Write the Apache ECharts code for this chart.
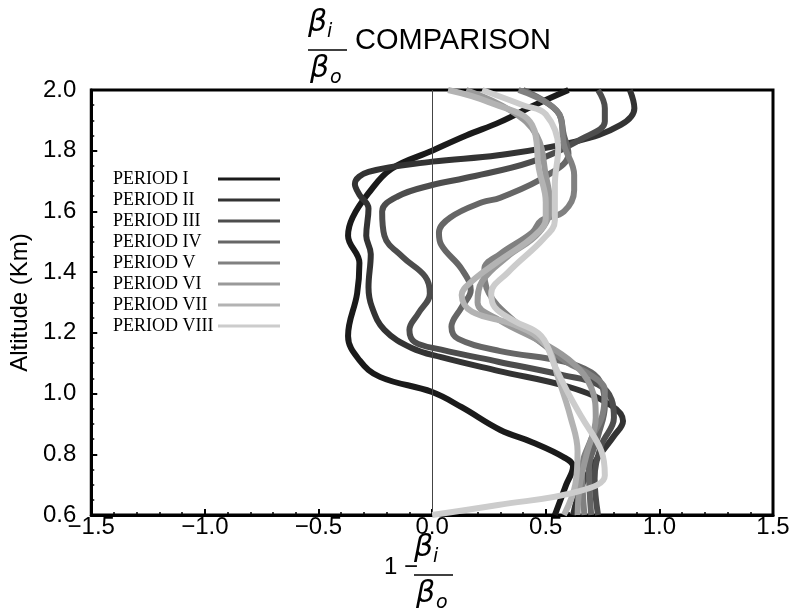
<!DOCTYPE html>
<html>
<head>
<meta charset="utf-8">
<script src="https://cdn.jsdelivr.net/npm/echarts@6/dist/echarts.min.js"></script>
<style>
  html, body { margin: 0; padding: 0; background: #fff; }
  #chart { width: 795px; height: 611px; }
</style>
</head>
<body>
<div id="chart"></div>
<script>
// each point is [1 - bi/bo, altitude in km], read top to bottom along the curve
const periodI = [[0.60,2.0],[0.45,1.95],[0.30,1.895],[0.15,1.85],[0.0,1.80],[-0.18,1.74],[-0.28,1.66],[-0.35,1.58],[-0.37,1.52],[-0.32,1.43],[-0.33,1.33],[-0.37,1.19],[-0.32,1.11],[-0.23,1.055],[0.0,1.005],[0.13,0.955],[0.30,0.88],[0.44,0.84],[0.58,0.79],[0.62,0.76],[0.59,0.70],[0.54,0.6]];
const periodII = [[0.87,2.0],[0.89,1.94],[0.83,1.885],[0.63,1.83],[0.29,1.785],[0.0,1.764],[-0.28,1.73],[-0.34,1.69],[-0.32,1.655],[-0.28,1.61],[-0.29,1.52],[-0.27,1.46],[-0.28,1.35],[-0.265,1.285],[-0.21,1.21],[-0.09,1.15],[0.04,1.12],[0.29,1.075],[0.61,1.02],[0.79,0.96],[0.84,0.91],[0.80,0.86],[0.73,0.79],[0.66,0.70],[0.62,0.6]];
const periodIII = [[0.73,2.0],[0.76,1.94],[0.76,1.896],[0.66,1.84],[0.44,1.764],[0.146,1.71],[0.0,1.687],[-0.15,1.65],[-0.22,1.60],[-0.21,1.52],[-0.13,1.45],[-0.03,1.385],[-0.01,1.33],[-0.06,1.265],[-0.10,1.21],[-0.077,1.17],[0.04,1.145],[0.29,1.105],[0.58,1.06],[0.73,1.03],[0.79,0.98],[0.80,0.92],[0.745,0.83],[0.715,0.72],[0.73,0.6]];
const periodIV = [[0.40,2.0],[0.55,1.93],[0.58,1.85],[0.60,1.79],[0.51,1.72],[0.30,1.645],[0.22,1.63],[0.08,1.58],[0.03,1.53],[0.04,1.49],[0.13,1.41],[0.17,1.34],[0.13,1.285],[0.085,1.22],[0.115,1.18],[0.30,1.14],[0.58,1.105],[0.70,1.07],[0.745,1.03],[0.76,0.96],[0.73,0.86],[0.69,0.75],[0.70,0.6]];
const periodV = [[0.38,2.0],[0.56,1.92],[0.58,1.82],[0.625,1.72],[0.625,1.67],[0.58,1.60],[0.48,1.57],[0.44,1.53],[0.30,1.46],[0.23,1.41],[0.25,1.33],[0.36,1.24],[0.51,1.15],[0.60,1.10],[0.70,1.06],[0.76,1.01],[0.75,0.93],[0.70,0.85],[0.66,0.75],[0.67,0.6]];
const periodVI = [[0.15,2.0],[0.35,1.93],[0.46,1.85],[0.50,1.72],[0.52,1.62],[0.47,1.53],[0.33,1.45],[0.22,1.37],[0.20,1.30],[0.30,1.24],[0.48,1.17],[0.62,1.10],[0.70,1.02],[0.72,0.92],[0.68,0.80],[0.65,0.70],[0.64,0.6]];
const periodVII = [[0.07,2.0],[0.25,1.96],[0.44,1.885],[0.47,1.74],[0.50,1.63],[0.50,1.577],[0.45,1.52],[0.29,1.435],[0.175,1.37],[0.13,1.325],[0.175,1.27],[0.365,1.226],[0.50,1.16],[0.555,1.05],[0.61,0.92],[0.64,0.81],[0.63,0.70],[0.58,0.6]];
const periodVIII = [[0.22,2.0],[0.40,1.95],[0.50,1.92],[0.555,1.81],[0.54,1.687],[0.54,1.57],[0.49,1.51],[0.335,1.40],[0.26,1.33],[0.275,1.285],[0.36,1.24],[0.48,1.19],[0.54,1.09],[0.60,1.0],[0.66,0.92],[0.745,0.81],[0.76,0.73],[0.64,0.677],[0.29,0.633],[0.0,0.6]];

const periodNames = ['PERIOD I', 'PERIOD II', 'PERIOD III', 'PERIOD IV', 'PERIOD V', 'PERIOD VI', 'PERIOD VII', 'PERIOD VIII'];
const periodData = [periodI, periodII, periodIII, periodIV, periodV, periodVI, periodVII, periodVIII];
const grays = ['#1a1a1a', '#333333', '#4d4d4d', '#666666', '#808080', '#999999', '#b3b3b3', '#cccccc'];

const xTicks = { min: -1.5, max: 1.5, step: 0.5 };
const yTicks = { min: 0.6, max: 2.0, step: 0.2 };

const chart = echarts.init(document.getElementById('chart'));

const sansFont = "'Liberation Sans', Arial, sans-serif";
const serifFont = "'Liberation Serif', 'Times New Roman', serif";

const fmt = (v) => (v < 0 ? '\u2212' + Math.abs(v).toFixed(1) : v.toFixed(1));

const series = periodData.map((d, i) => ({
  name: periodNames[i],
  type: 'line',
  data: d,
  smooth: 0.4,
  showSymbol: false,
  symbol: 'none',
  lineStyle: { width: 6, color: grays[i] },
  itemStyle: { color: grays[i] },
  z: 3 + i,
}));

// thin line at x = 0
series[0].markLine = {
  silent: true,
  symbol: ['none', 'none'],
  label: { show: false },
  lineStyle: { color: '#444', width: 1, type: 'solid' },
  data: [{ xAxis: 0 }],
};

const txt = (left, top, text, size, italic) => ({
  type: 'text', left: left, top: top,
  style: {
    text: text, fill: '#000', fontSize: size,
    fontStyle: italic ? 'italic' : 'normal',
    fontFamily: italic ? "'DejaVu Sans', sans-serif" : sansFont,
  },
});

// fraction pieces for the title and the x axis name
const fraction = (cx, top) => [
  txt(cx - 20, top, '\u03b2', 30, true),
  txt(cx - 1, top + 15, 'i', 19, true),
  { type: 'line', shape: { x1: cx - 20, y1: top + 42, x2: cx + 19, y2: top + 42 }, style: { stroke: '#000', lineWidth: 1.5 } },
  txt(cx - 18, top + 46, '\u03b2', 30, true),
  txt(cx + 2, top + 61, 'o', 19, true),
];

chart.setOption({
  animation: false,
  backgroundColor: '#fff',
  grid: {
    left: 88, right: 22, top: 90, bottom: 96,
    show: true, borderColor: '#000', borderWidth: 3,
  },
  legend: {
    data: periodNames,
    orient: 'vertical',
    left: 108,
    top: 165,
    align: 'right',
    icon: 'rect',
    itemWidth: 62,
    itemHeight: 3,
    itemGap: 3,
    formatter: (name) => '{t|' + name + '}',
    textStyle: {
      fontFamily: serifFont, fontSize: 18, color: '#000',
      rich: { t: { width: 100, align: 'left', fontFamily: serifFont, fontSize: 18, color: '#000' } },
    },
  },
  xAxis: {
    type: 'value',
    min: xTicks.min, max: xTicks.max, interval: xTicks.step,
    axisLine: { show: true, onZero: false, lineStyle: { color: '#000', width: 3 } },
    axisTick: { show: true, inside: true, length: 6, lineStyle: { color: '#000', width: 2 } },
    minorTick: { show: true, splitNumber: 5, length: 3, lineStyle: { color: '#000', width: 1.5 } },
    splitLine: { show: false },
    axisLabel: { formatter: fmt, fontSize: 24, color: '#000', fontFamily: sansFont, margin: 0 },
  },
  yAxis: {
    type: 'value',
    min: yTicks.min, max: yTicks.max, interval: yTicks.step,
    name: 'Altitude (Km)',
    nameLocation: 'middle',
    nameGap: 54,
    nameTextStyle: { fontSize: 24, color: '#000', fontFamily: sansFont },
    axisLine: { show: true, onZero: false, lineStyle: { color: '#000', width: 3 } },
    axisTick: { show: true, inside: true, length: 6, lineStyle: { color: '#000', width: 2 } },
    minorTick: { show: true, splitNumber: 4, length: 3, lineStyle: { color: '#000', width: 1.5 } },
    splitLine: { show: false },
    axisLabel: { formatter: (v) => v.toFixed(1), fontSize: 24, color: '#000', fontFamily: sansFont, margin: 15 },
  },
  graphic: [
    ...fraction(328, 8),
    txt(355, 26, 'COMPARISON', 29, false),
    txt(384, 555, '1 \u2212', 24, false),
    ...fraction(434, 533),
  ],
  series: series,
});
</script>
</body>
</html>
